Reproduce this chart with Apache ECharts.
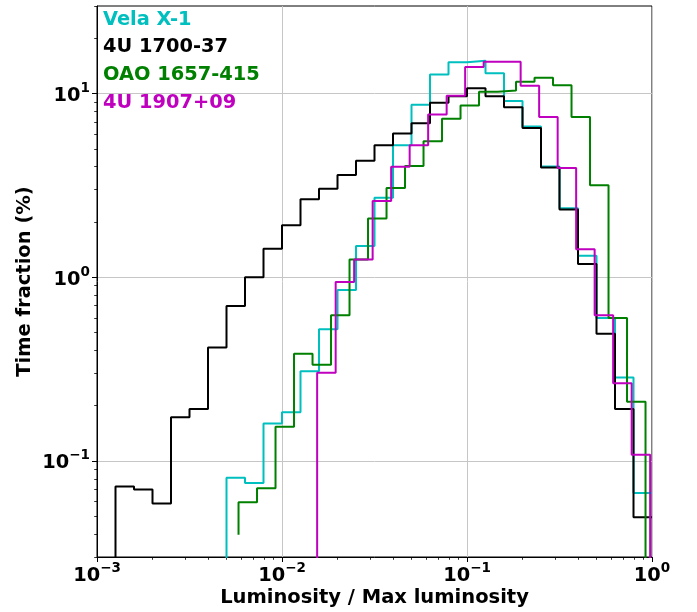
<!DOCTYPE html>
<html>
<head>
<meta charset="utf-8">
<script src="https://cdn.jsdelivr.net/npm/echarts@6/dist/echarts.min.js"></script>
<style>
  html, body { margin: 0; padding: 0; background: #fff; }
  #chart { width: 697px; height: 612px; }
</style>
</head>
<body>
<div id="chart"></div>
<script>
// Fraction of observing time spent in each luminosity bin (in %),
// for four wind-fed X-ray binaries. Bins are 0.1 dex wide in L/Lmax.
// Each list holds consecutive bins; value i belongs to the bin whose
// upper edge sits at log10(L/Lmax) = firstEdge + i * binWidthDex.
// A 0 means the bin is empty.
const binWidthDex = 0.1;

const sourceNames = ['Vela X-1', '4U 1700-37', 'OAO 1657-415', '4U 1907+09'];

const velaFirstEdge = -2.3;
const velaPct = [0, 0.0811, 0.0758, 0.160, 0.184, 0.308, 0.521, 0.853, 1.48, 2.71,
  5.24, 8.71, 12.7, 14.8, 15.1, 12.9, 9.12, 6.63, 4.01, 2.38, 1.31, 0.60, 0.285, 0.067];

const u1700FirstEdge = -2.9;
const u1700Pct = [0, 0.0725, 0.070, 0.0586, 0.173, 0.192, 0.415, 0.698, 1.0, 1.43,
  1.92, 2.66, 3.03, 3.61, 4.31, 5.24, 6.06, 6.90, 8.93, 9.67,
  10.7, 9.67, 8.43, 6.50, 3.96, 2.34, 1.18, 0.492, 0.192, 0.0494];

const oaoFirstEdge = -2.235;
const oaoPct = [0.0396, 0.0596, 0.0711, 0.1536, 0.383, 0.334, 0.622, 1.25, 2.09, 3.06,
  4.03, 5.51, 7.29, 8.61, 10.25, 10.4, 11.6, 12.2, 11.1, 7.47, 3.17, 0.601, 0.210, 0];

const u1907FirstEdge = -1.81;
const u1907Pct = [0, 0.302, 0.943, 1.25, 2.60, 4.0, 5.24, 7.69, 9.75, 13.97,
  14.9, 14.9, 11.05, 7.47, 3.94, 1.42, 0.622, 0.265, 0.108, 0];

// Axis ranges and labelled ticks
const xRange = [0.001, 1];
const yRange = [0.03, 30];
const xMajorTicks = [0.001, 0.01, 0.1, 1];
const yMajorTicks = [0.1, 1, 10];

// ---------------------------------------------------------------------------
const FONT = 'DejaVu Sans';
const lineColors = ['#00bfbf', '#000000', '#008000', '#bf00bf'];
const EMPTY_FLOOR = 1e-4; // empty bins drop below the visible log range

function stepPoints(firstEdge, pct) {
  return pct.map((v, i) => [Math.pow(10, firstEdge + i * binWidthDex), v > 0 ? v : EMPTY_FLOOR]);
}

// 2..9 x 10^k between the range limits
function minorTicks(range) {
  const out = [];
  const lo = Math.floor(Math.log10(range[0]));
  const hi = Math.ceil(Math.log10(range[1]));
  for (let d = lo; d <= hi; d++) {
    for (let m = 2; m <= 9; m++) {
      const v = parseFloat((m * Math.pow(10, d)).toPrecision(6));
      if (v >= range[0] * 0.9999 && v <= range[1] * 1.0001) out.push(v);
    }
  }
  return out;
}

function powLabel(v) {
  const p = Math.round(Math.log10(v));
  return '{b|10}{e|' + String(p).replace('-', '\u2212') + '}';
}

const labelRich = {
  b: { fontFamily: FONT, fontWeight: 'bold', fontSize: 19.4, color: '#000', lineHeight: 24, verticalAlign: 'bottom' },
  e: { fontFamily: FONT, fontWeight: 'bold', fontSize: 13.5, color: '#000', lineHeight: 12, verticalAlign: 'top' }
};

const nameStyle = { fontFamily: FONT, fontWeight: 'bold', fontSize: 19.5, color: '#000' };
const gridLine = { show: true, lineStyle: { color: '#c6c6c6', width: 1, type: 'solid' } };

const seriesData = [
  stepPoints(velaFirstEdge, velaPct),
  stepPoints(u1700FirstEdge, u1700Pct),
  stepPoints(oaoFirstEdge, oaoPct),
  stepPoints(u1907FirstEdge, u1907Pct)
];

const chart = echarts.init(document.getElementById('chart'), null, { renderer: 'canvas' });

chart.setOption({
  animation: false,
  backgroundColor: '#fff',
  grid: {
    left: 97, right: 45, top: 6, bottom: 55,
    show: true, borderColor: '#000', borderWidth: 1, backgroundColor: 'transparent',
    containLabel: false, outerBoundsMode: 'none'
  },
  legend: {
    orient: 'vertical',
    left: 98, top: 5.6, padding: 0, itemGap: 0,
    itemWidth: 0, itemHeight: 0, icon: 'none',
    selectedMode: false,
    textStyle: { fontFamily: FONT, fontWeight: 'bold', fontSize: 19.4, lineHeight: 27.8 },
    data: sourceNames.map((n, i) => ({ name: n, textStyle: { color: lineColors[i] } }))
  },
  xAxis: [
    {
      type: 'log', logBase: 10, min: xRange[0], max: xRange[1], position: 'bottom',
      axisLine: { show: true, onZero: false, lineStyle: { color: '#000', width: 1 } },
      axisTick: { show: true, customValues: xMajorTicks, length: 5, lineStyle: { color: '#000', width: 1 } },
      axisLabel: { customValues: xMajorTicks, formatter: powLabel, rich: labelRich, margin: 4 },
      splitLine: gridLine,
      minorTick: { show: false }, minorSplitLine: { show: false },
      name: 'Luminosity / Max luminosity', nameLocation: 'middle', nameGap: 31,
      nameMoveOverlap: false,
      nameTextStyle: nameStyle
    },
    {
      type: 'log', logBase: 10, min: xRange[0], max: xRange[1], position: 'bottom',
      axisLine: { show: false },
      axisTick: { show: true, customValues: minorTicks(xRange), length: 2.8, lineStyle: { color: '#000', width: 0.8 } },
      axisLabel: { show: false },
      splitLine: { show: false }
    }
  ],
  yAxis: [
    {
      type: 'log', logBase: 10, min: yRange[0], max: yRange[1], position: 'left',
      axisLine: { show: true, onZero: false, lineStyle: { color: '#000', width: 1 } },
      axisTick: { show: true, customValues: yMajorTicks, length: 5, lineStyle: { color: '#000', width: 1 } },
      axisLabel: { customValues: yMajorTicks, formatter: powLabel, rich: labelRich, margin: 7 },
      splitLine: gridLine,
      minorTick: { show: false }, minorSplitLine: { show: false },
      name: 'Time fraction (%)', nameLocation: 'middle', nameRotate: 90, nameGap: 62,
      nameMoveOverlap: false,
      nameTextStyle: nameStyle
    },
    {
      type: 'log', logBase: 10, min: yRange[0], max: yRange[1], position: 'left',
      axisLine: { show: false },
      axisTick: { show: true, customValues: minorTicks(yRange), length: 2.8, lineStyle: { color: '#000', width: 0.8 } },
      axisLabel: { show: false },
      splitLine: { show: false }
    }
  ],
  series: sourceNames.map((name, i) => ({
    name: name,
    type: 'line',
    step: 'start',
    xAxisIndex: 0,
    yAxisIndex: 0,
    data: seriesData[i],
    showSymbol: false,
    symbol: 'none',
    clip: true,
    color: lineColors[i],
    lineStyle: { color: lineColors[i], width: 2 },
    emphasis: { disabled: true },
    z: 2 + i
  }))
});
</script>
</body>
</html>
